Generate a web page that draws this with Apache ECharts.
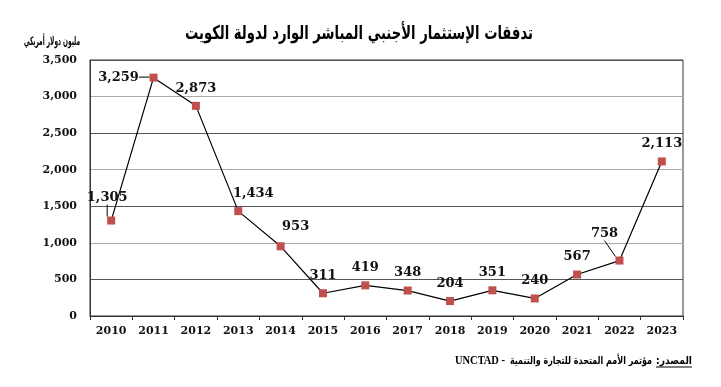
<!DOCTYPE html>
<html><head><meta charset="utf-8">
<script src="https://cdn.jsdelivr.net/npm/echarts@6/dist/echarts.min.js"></script>
<style>html,body{margin:0;padding:0;background:#fff}#c{width:721px;height:387px}</style>
</head><body><div id="c"></div>
<script>
const years = ['2010','2011','2012','2013','2014','2015','2016','2017','2018','2019','2020','2021','2022','2023'];
const fdi = [1305, 3259, 2873, 1434, 953, 311, 419, 348, 204, 351, 240, 567, 758, 2113];
const titleText = 'تدفقات الإستثمار الأجنبي المباشر الوارد لدولة الكويت';
const unitText = 'مليون دولار أمريكي';
const sourceLabel = ':المصدر';
const sourceBody = 'مؤتمر الأمم المتحدة للتجارة والتنمية';
const sourceOrg = 'UNCTAD -';

const leaderIdx = [0, 1, 12];
const labelShift = {0: [-4, -5], 1: [-35, 17], 3: [15, 0], 4: [15, -2], 12: [-15, -9]};

const mctx = document.createElement('canvas').getContext('2d');
function fitText(text, font, cx, cy, width, align) {
  mctx.font = font;
  const w = mctx.measureText(text).width;
  return {type: 'text', x: cx, y: cy, scaleX: width / w,
    style: {text: text, font: font, fill: '#000', textAlign: align || 'center', textVerticalAlign: 'middle'}};
}

const chart = echarts.init(document.getElementById('c'), null, {renderer: 'canvas'});
chart.setOption({
  animation: false,
  backgroundColor: '#fff',
  grid: {left: 90, right: 38, top: 60, bottom: 71, show: true, borderColor: '#333', borderWidth: 1},
  xAxis: {
    type: 'category', data: years, boundaryGap: true,
    axisLine: {lineStyle: {color: '#333', width: 1}},
    axisTick: {show: true, length: 4, lineStyle: {color: '#333'}},
    axisLabel: {margin: 10, color: '#111', fontFamily: '"DejaVu Serif"', fontWeight: 'bold', fontSize: 11}
  },
  yAxis: {
    type: 'value', min: 0, max: 3500, interval: 500,
    axisLine: {show: true, lineStyle: {color: '#333'}},
    axisTick: {show: false},
    axisLabel: {margin: 13, color: '#111', fontFamily: '"DejaVu Serif"', fontWeight: 'bold', fontSize: 11,
      formatter: v => v.toLocaleString('en-US')},
    splitLine: {show: true, lineStyle: {color: ['#aaa', '#555'], width: 1.2}}
  },
  series: [{
    type: 'line',
    data: fdi.map((v, i) => ({value: v, labelLine: {show: leaderIdx.includes(i), lineStyle: {color: '#000', width: 1}}})),
    symbol: 'rect', symbolSize: 8,
    itemStyle: {color: '#C0504D'},
    lineStyle: {color: '#000', width: 1.2},
    label: {
      show: true, position: 'top', distance: 7,
      fontFamily: '"DejaVu Serif"', fontWeight: 'bold', fontSize: 13, color: '#111',
      formatter: p => p.value.toLocaleString('en-US')
    },
    labelLayout: function (p) {
      const s = labelShift[p.dataIndex];
      return s ? {dx: s[0], dy: s[1]} : {};
    }
  }],
  graphic: [
    fitText(titleText, 'bold 19px "DejaVu Sans"', 359, 34, 348),
    fitText(unitText, 'bold 12px "DejaVu Sans"', 52, 42, 56),
    fitText(sourceLabel, 'bold 11px "DejaVu Sans"', 674, 361, 36),
    {type: 'line', shape: {x1: 656, y1: 367, x2: 692, y2: 367}, style: {stroke: '#000', lineWidth: 1}},
    fitText(sourceBody, 'bold 11px "DejaVu Sans"', 581, 361, 142),
    fitText(sourceOrg, 'bold 12px "Liberation Serif"', 480, 361, 50)
  ]
});
</script></body></html>
